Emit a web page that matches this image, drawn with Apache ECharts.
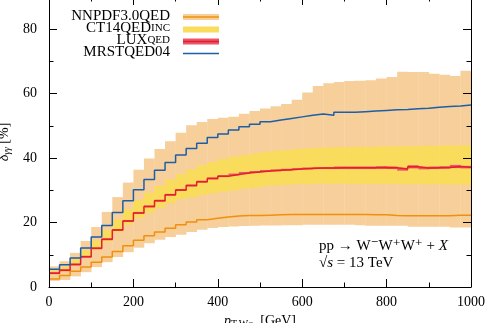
<!DOCTYPE html>
<html><head><meta charset="utf-8">
<script src="https://cdn.jsdelivr.net/npm/echarts@6/dist/echarts.min.js"></script>
<style>html,body{margin:0;padding:0;background:#fff}#c{width:492px;height:323px}</style>
</head><body><div id="c"></div>
<script>
const binEdges = [0,25,50,75,100,125,150,175,200,225,250,275,300,325,350,375,400,425,450,475,500,525,550,575,600,625,650,675,700,725,750,775,800,825,850,875,900,925,950,975,1000];
const nnpdfCentral = [2.5,3.6,4.9,6.2,7.7,9.3,11.0,12.8,14.5,15.9,17.1,18.2,19.3,20.2,20.9,21.3,21.7,22.0,22.2,22.2,22.3,22.4,22.5,22.5,22.5,22.5,22.5,22.5,22.5,22.5,22.4,22.4,22.2,22.1,22.1,22.1,22.1,22.1,22.3,22.3];
const nnpdfLow = [1.9,2.2,3.3,4.6,6.2,7.7,9.3,10.8,12.2,13.6,14.7,15.5,16.2,17.1,17.8,18.3,18.6,18.8,18.9,19.0,19.1,19.1,19.2,19.2,19.3,19.3,19.3,19.3,19.3,19.2,19.0,19.0,19.0,19.0,18.7,18.7,18.7,18.7,18.5,18.5];
const nnpdfHigh = [6.4,8.0,10.6,14.3,18.6,23.3,27.9,32.4,36.4,39.9,42.8,45.2,47.9,50.2,51.2,52.1,52.5,52.8,53.8,54.6,55.4,56.1,56.8,58.1,60.4,62.4,63.2,63.6,63.9,64.0,64.2,64.7,65.2,66.8,66.7,66.7,66.2,65.9,65.5,67.1];
const ct14Low = [4.0,4.9,6.7,9.0,11.5,14.1,16.9,19.4,21.5,23.1,24.6,26.0,27.3,27.8,28.5,29.1,29.6,30.0,30.5,30.8,31.3,31.6,31.7,31.9,31.9,32.1,32.1,32.1,32.0,32.0,32.0,32.0,32.0,31.9,31.9,31.9,31.9,31.8,31.8,31.8];
const ct14High = [5.0,6.3,8.6,11.4,14.4,17.6,20.9,24.1,26.9,29.2,31.3,33.3,35.0,36.4,37.8,38.8,39.7,40.4,40.9,41.4,41.9,42.2,42.5,42.8,43.0,43.2,43.3,43.4,43.4,43.5,43.5,43.6,43.6,43.7,43.7,43.8,43.8,43.9,43.9,44.0];
const luxCentral = [4.3,5.2,7.0,9.4,12.0,14.8,17.7,20.5,23.0,25.0,26.8,28.6,30.1,31.5,32.7,33.7,34.4,34.9,35.4,35.7,36.0,36.2,36.4,36.6,36.8,36.9,36.9,37.0,37.0,37.0,37.0,37.1,37.0,36.6,37.3,36.9,37.0,37.1,37.4,37.2];
const luxLow = [4.0,4.9,6.7,9.1,11.7,14.5,17.4,20.2,22.7,24.7,26.5,28.3,29.8,31.2,32.4,33.4,34.1,34.6,35.1,35.4,35.7,35.9,36.1,36.3,36.5,36.6,36.6,36.6,36.6,36.6,36.6,36.7,36.6,36.1,36.8,36.5,36.6,36.7,36.9,36.8];
const luxHigh = [4.6,5.5,7.3,9.7,12.3,15.1,18.0,20.8,23.3,25.3,27.1,28.9,30.4,31.8,33.0,34.0,34.7,35.2,35.7,36.0,36.3,36.5,36.7,36.9,37.1,37.2,37.2,37.4,37.4,37.4,37.4,37.5,37.4,37.0,37.8,37.3,37.4,37.5,37.9,37.6];
const mrstCentral = [5.5,6.9,9.0,12.1,15.5,19.1,23.1,26.8,30.2,33.4,36.2,38.6,41.0,43.0,44.6,46.4,47.5,48.7,49.7,50.5,51.3,51.8,52.3,52.8,53.3,53.7,53.3,54.2,54.2,54.4,54.6,54.8,55.0,55.1,55.3,55.5,55.8,56.0,56.2,56.5];
const xTicks = [0,200,400,600,800,1000];
const yTicks = [0,20,40,60,80];

const C = {bandO:'#f7cf9a', yellow:'#fadc5c', pink:'#e9566a', orange:'#f0900e', red:'#e41e2b', blue:'#1d5ea8'};
const SERIF = '"Liberation Serif","DejaVu Serif",serif';

function bandData(lo, hi){ return lo.map((v,i)=>[binEdges[i], binEdges[i+1], v, hi[i]]); }
function stepData(vals){ return binEdges.map((e,i)=>[e, vals[Math.min(i, vals.length-1)]]); }
function bandSeries(lo, hi, color, z){
  return {type:'custom', z:z, clip:true, silent:true, data:bandData(lo,hi), encode:{x:[0,1], y:[2,3]},
    renderItem:function(params, api){
      const a = api.coord([api.value(0), api.value(3)]);
      const b = api.coord([api.value(1), api.value(2)]);
      return {type:'rect', shape:{x:a[0], y:a[1], width:b[0]-a[0]+0.3, height:b[1]-a[1]}, style:{fill:color}};
    }};
}
function stepSeries(vals, color, z, w){
  return {type:'line', z:z, step:'end', symbol:'none', silent:true, data:stepData(vals), lineStyle:{color:color, width:w}};
}

const tickStyle = {axisTick:{show:true, inside:true, length:8, lineStyle:{color:'#000', width:1}},
  minorTick:{show:true, splitNumber:2, length:4.5, lineStyle:{color:'#000', width:1}},
  axisLine:{show:true, onZero:false, lineStyle:{color:'#000', width:1}}, splitLine:{show:false}, minorSplitLine:{show:false}, z:10};
const chart = echarts.init(document.getElementById('c'), null, {renderer:'canvas'});
chart.setOption({
  animation:false,
  grid:{left:49, right:21, top:-3, bottom:36, containLabel:false, outerBoundsMode:'none'},
  xAxis:[
    Object.assign({type:'value', min:0, max:1000, interval:200, position:'bottom',
      axisLabel:{margin:8, color:'#000', fontFamily:SERIF, fontSize:14, formatter:function(v){return xTicks.indexOf(v)>=0 ? String(v) : '';}},
      name:'{i|p}{s|T,W⁻}  {n|[GeV]}', nameLocation:'middle', nameGap:24,
      nameTextStyle:{rich:{i:{fontFamily:SERIF, fontStyle:'italic', fontSize:14, color:'#000'}, s:{fontFamily:SERIF, fontSize:10, color:'#000', padding:[6,0,0,0]}, n:{fontFamily:SERIF, fontSize:14, color:'#000'}}}
    }, tickStyle),
    Object.assign({type:'value', min:0, max:1000, interval:200, position:'top', axisLabel:{show:false}}, tickStyle)
  ],
  yAxis:[
    Object.assign({type:'value', min:0, max:90, interval:20, position:'left',
      axisLabel:{margin:12, color:'#000', fontFamily:SERIF, fontSize:14, formatter:function(v){return yTicks.indexOf(v)>=0 ? String(v) : '';}},
      name:'{i|δ}{s|γγ} {n|[%]}', nameLocation:'middle', nameGap:31, nameRotate:90,
      nameTextStyle:{rich:{i:{fontFamily:SERIF, fontStyle:'italic', fontSize:14, color:'#000'}, s:{fontFamily:SERIF, fontStyle:'italic', fontSize:10, color:'#000', padding:[6,0,0,0]}, n:{fontFamily:SERIF, fontSize:14, color:'#000'}}}
    }, tickStyle),
    Object.assign({type:'value', min:0, max:90, interval:20, position:'right', axisLabel:{show:false}}, tickStyle)
  ],
  series:[
    bandSeries(nnpdfLow, nnpdfHigh, C.bandO, 1),
    bandSeries(ct14Low, ct14High, C.yellow, 2),
    bandSeries(luxLow, luxHigh, C.pink, 3),
    stepSeries(nnpdfCentral, C.orange, 4, 1.5),
    stepSeries(luxCentral, C.red, 5, 1.5),
    stepSeries(mrstCentral, C.blue, 6, 1.5)
  ],
  graphic:[
    {type:'text', x:170, y:16.5, style:{text:'NNPDF3.0QED', font:'15px '+SERIF, fill:'#000', align:'right', verticalAlign:'middle'}},
    {type:'rect', shape:{x:183, y:14, width:36, height:6}, style:{fill:C.bandO}},
    {type:'line', shape:{x1:183, y1:17, x2:219, y2:17}, style:{stroke:C.orange, lineWidth:1.5}},
    {type:'text', x:170, y:28.5, style:{text:'{a|CT14QED}{b|INC}', rich:{a:{font:'15px '+SERIF, fill:'#000'}, b:{font:'11px '+SERIF, fill:'#000'}}, align:'right', verticalAlign:'middle'}},
    {type:'rect', shape:{x:183, y:26.5, width:36, height:6}, style:{fill:C.yellow}},
    {type:'text', x:170, y:40.5, style:{text:'{a|LUX}{b|QED}', rich:{a:{font:'15px '+SERIF, fill:'#000'}, b:{font:'11px '+SERIF, fill:'#000'}}, align:'right', verticalAlign:'middle'}},
    {type:'rect', shape:{x:183, y:38.5, width:36, height:6}, style:{fill:C.pink}},
    {type:'line', shape:{x1:183, y1:41.5, x2:219, y2:41.5}, style:{stroke:C.red, lineWidth:1.5}},
    {type:'text', x:170, y:52.5, style:{text:'MRSTQED04', font:'15px '+SERIF, fill:'#000', align:'right', verticalAlign:'middle'}},
    {type:'line', shape:{x1:183, y1:53.5, x2:219, y2:53.5}, style:{stroke:C.blue, lineWidth:1.5}},
    {type:'text', x:319, y:246, style:{text:'{n|pp → W⁻W⁺W⁺ + }{i|X}', rich:{n:{font:'15px '+SERIF, fill:'#000'}, i:{font:'italic 15px '+SERIF, fill:'#000'}}, align:'left', verticalAlign:'middle'}},
    {type:'text', x:319, y:263, style:{text:'{n|√}{i|s}{n| = 13 TeV}', rich:{n:{font:'15px '+SERIF, fill:'#000'}, i:{font:'italic 15px '+SERIF, fill:'#000'}}, align:'left', verticalAlign:'middle'}}
  ]
});
</script></body></html>
